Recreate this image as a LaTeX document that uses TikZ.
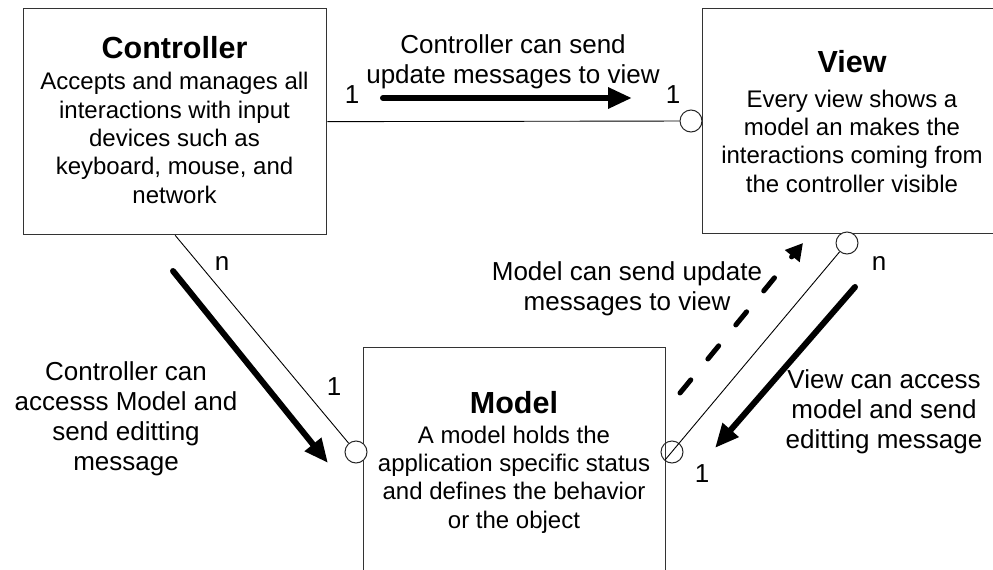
\documentclass[tikz,border=0pt]{standalone}
\usepackage{fontspec}
\setmainfont{Liberation Sans}
\usetikzlibrary{arrows.meta}
\begin{document}
\begin{tikzpicture}[x=1pt,y=-1pt,
  box/.style={draw=black!80, line width=1.3pt, anchor=north west, inner sep=0pt,
              minimum width=303pt, minimum height=226pt},
  boxtitle/.style={font=\fontsize{30.5}{34}\selectfont\bfseries, anchor=base, inner sep=0pt},
  boxtext/.style={font=\fontsize{24}{28.3}\selectfont, align=center, anchor=base, inner sep=0pt},
  lbl/.style={font=\fontsize{26}{30}\selectfont, align=center, anchor=base, inner sep=0pt},
  port/.style={circle, draw=black!85, fill=white, line width=1pt, minimum size=22pt, inner sep=0pt},
  link/.style={draw=black, line width=0.9pt},
  msg/.style={line width=6pt, line cap=round, -{Triangle[length=24pt,width=20pt]}},
  notify/.style={line width=5pt, line cap=round, dash pattern=on 17pt off 27pt,
                 -{Triangle[length=17pt,width=18pt]}}]
\useasboundingbox (0,0) rectangle (993,570);
\clip (0,0) rectangle (993,570);

% the three components
\node[box] (ctrl) at (23,8) {};
\node[box, minimum height=225pt] (view) at (702,8) {};
\node[box, minimum width=302pt, minimum height=240pt] (model) at (363,347) {};

% titles sit on their baseline; multi-line texts are placed by their last line
\node[boxtitle] (ctrlT) at (174.5,58) {Controller};
\node[boxtext] (ctrlB) at (174.5,203) {Accepts and manages all\\interactions with input\\devices such as\\keyboard, mouse, and\\network};

\node[boxtitle] (viewT) at (852,72) {View};
\node[boxtext] (viewB) at (852,192) {Every view shows a\\model an makes the\\interactions coming from\\the controller visible};

\node[boxtitle] (modelT) at (514,413) {Model};
\node[boxtext] (modelB) at (514,528) {A model holds the\\application specific status\\and defines the behavior\\or the object};

% association ends
\node[port] (vport) at (691,121) {};
\node[port] (vbport) at (847,243) {};
\node[port] (mlport) at (356,452) {};
\coordinate (mrend) at (665,460);

% associations
\draw[link] (ctrl.east) -- (vport);
\draw[link] (ctrl.south) -- (mlport);
\node[port, fill=none] (mrport) at (672,452) {};
\draw[link] (vbport) -- (mrend);

% multiplicities
\node[lbl] (m1) at (352,103) {1};
\node[lbl] (m2) at (673,103) {1};
\node[lbl] (m3) at (222,270) {n};
\node[lbl] (m4) at (334,395) {1};
\node[lbl] (m5) at (879,270) {n};
\node[lbl] (m6) at (702,482) {1};

% message arrows
\coordinate (a1s) at (383,98);  \coordinate (a1e) at (632,98);
\coordinate (a2s) at (173,271); \coordinate (a2e) at (328,463);
\coordinate (a3s) at (855,287); \coordinate (a3e) at (715,448);
\coordinate (a4s) at (680,393); \coordinate (a4e) at (803,243);
\draw[msg] (a1s) -- (a1e);
\draw[msg] (a2s) -- (a2e);
\draw[msg] (a3s) -- (a3e);
\draw[notify] (a4s) -- (a4e);

% message labels
\node[lbl] (t1) at (513,83) {Controller can send\\update messages to view};
\node[lbl] (t2) at (126,470) {Controller can\\accesss Model and\\send editting\\message};
\node[lbl] (t3) at (627,310) {Model can send update\\messages to view};
\node[lbl] (t4) at (884,448) {View can access\\model and send\\editting message};
\end{tikzpicture}
\end{document}
